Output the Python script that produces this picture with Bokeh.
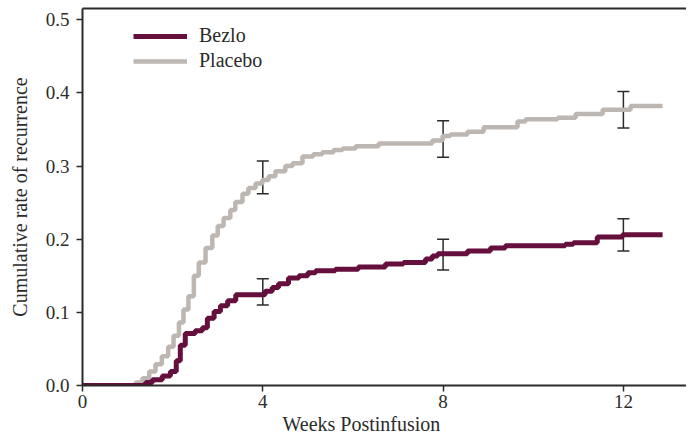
from bokeh.plotting import figure
from bokeh.models import (ColumnDataSource, Range1d, LinearAxis, FixedTicker, Whisker,
                          TeeHead, Legend, LegendItem, Title, PrintfTickFormatter)
from bokeh.embed import file_html
from bokeh.resources import INLINE

# ---- data ----
bezlo_t = [0, 1.40, 1.55, 1.77, 1.95, 2.08, 2.17, 2.28, 2.50, 2.66, 2.77, 2.92, 3.06, 3.22, 3.40,
           4.05, 4.21, 4.35, 4.57, 4.80, 5.00, 5.17, 5.61, 6.12, 6.72, 7.12, 7.61, 7.76, 7.88,
           8.54, 9.05, 9.38, 10.71, 10.89, 11.42, 11.98, 12.87]
bezlo_v = [0, 0.004, 0.008, 0.013, 0.019, 0.034, 0.055, 0.071, 0.075, 0.079, 0.092, 0.101, 0.109,
           0.116, 0.124, 0.129, 0.134, 0.139, 0.147, 0.150, 0.154, 0.157, 0.159, 0.162, 0.166,
           0.168, 0.173, 0.177, 0.180, 0.184, 0.188, 0.191, 0.193, 0.195, 0.203, 0.206, 0.206]

placebo_t = [0, 1.18, 1.33, 1.48, 1.62, 1.76, 1.90, 2.02, 2.14, 2.24, 2.35, 2.47, 2.58, 2.73, 2.88,
             3.00, 3.13, 3.28, 3.39, 3.55, 3.68, 3.84, 3.99, 4.13, 4.28, 4.50, 4.66, 4.88, 5.12,
             5.32, 5.57, 5.77, 6.06, 6.57, 7.76, 7.99, 8.16, 8.54, 8.90, 9.65, 9.83, 10.54,
             10.94, 11.54, 12.16, 12.87]
placebo_v = [0, 0.004, 0.010, 0.019, 0.029, 0.040, 0.053, 0.068, 0.086, 0.104, 0.122, 0.150, 0.168,
             0.188, 0.205, 0.218, 0.229, 0.240, 0.251, 0.262, 0.270, 0.276, 0.281, 0.286, 0.293,
             0.300, 0.304, 0.313, 0.316, 0.319, 0.322, 0.324, 0.327, 0.331, 0.335, 0.341, 0.343,
             0.347, 0.353, 0.361, 0.364, 0.366, 0.371, 0.377, 0.382, 0.382]

err_weeks = [4, 8, 12]
bezlo_lo = [0.110, 0.158, 0.184]
bezlo_hi = [0.146, 0.200, 0.228]
placebo_lo = [0.262, 0.312, 0.352]
placebo_hi = [0.307, 0.362, 0.402]

x_ticks = [0, 4, 8, 12]
y_ticks = [0.0, 0.1, 0.2, 0.3, 0.4, 0.5]

MAROON = "#650f3d"
GREY = "#bdb6b1"
INK = "#2b2b2b"
FONT = "Liberation Serif"

p = figure(width=686, height=436, output_backend="svg", toolbar_location=None,
           x_range=Range1d(0, 13.40), y_range=Range1d(0, 0.5154),
           min_border_left=82, min_border_right=0, min_border_top=8, min_border_bottom=51,
           x_axis_label=None, y_axis_label="Cumulative rate of recurrence")
p.outline_line_color = None
p.grid.visible = False
p.background_fill_color = "white"

# error bars (beneath the curves)
for lo, hi in ((bezlo_lo, bezlo_hi), (placebo_lo, placebo_hi)):
    src = ColumnDataSource(dict(x=err_weeks, lo=lo, hi=hi))
    w = Whisker(source=src, base="x", lower="lo", upper="hi", level="underlay",
                line_color=INK, line_width=1.5,
                upper_head=TeeHead(size=12, line_color=INK, line_width=1.5),
                lower_head=TeeHead(size=12, line_color=INK, line_width=1.5))
    p.add_layout(w)

r_p = p.step(placebo_t, placebo_v, mode="after", line_color=GREY, line_width=4.5)
r_b = p.step(bezlo_t, bezlo_v, mode="after", line_color=MAROON, line_width=5)

# axes styling
for ax in (p.xaxis[0], p.yaxis[0]):
    ax.axis_line_color = INK
    ax.axis_line_width = 2
    ax.major_tick_line_color = INK
    ax.major_tick_line_width = 1.5
    ax.major_tick_in = 0
    ax.major_tick_out = 6
    ax.minor_tick_line_color = None
    ax.major_label_text_font = FONT
    ax.major_label_text_font_size = "19px"
    ax.major_label_text_color = INK
    ax.axis_label_text_font = FONT
    ax.axis_label_text_font_size = "20px"
    ax.axis_label_text_font_style = "normal"
    ax.axis_label_text_color = INK

p.xaxis[0].ticker = FixedTicker(ticks=x_ticks)
p.yaxis[0].ticker = FixedTicker(ticks=y_ticks)
p.yaxis[0].formatter = PrintfTickFormatter(format="%.1f")
p.yaxis[0].major_label_standoff = 7
p.yaxis[0].axis_label_standoff = 12
p.xaxis[0].major_label_standoff = 3

# top spine
top = LinearAxis(ticker=FixedTicker(ticks=[]), axis_line_color=INK, axis_line_width=2,
                 major_tick_line_color=None, minor_tick_line_color=None)
p.add_layout(top, "above")

# x axis title, placed like the reference
p.add_layout(Title(text="Weeks Postinfusion", align="left", offset=200,
                   text_font=FONT, text_font_size="20px", text_font_style="normal",
                   text_color=INK, standoff=0), "below")

legend = Legend(items=[LegendItem(label="Bezlo", renderers=[r_b]),
                       LegendItem(label="Placebo", renderers=[r_p])],
                location=(51, 313), orientation="vertical",
                glyph_width=54, glyph_height=20, label_height=20, spacing=2,
                label_standoff=12, padding=0, margin=0,
                border_line_color=None, background_fill_alpha=0,
                label_text_font=FONT, label_text_font_size="20px", label_text_color=INK)
p.add_layout(legend)

open("out.html", "w").write(file_html(p, INLINE))
